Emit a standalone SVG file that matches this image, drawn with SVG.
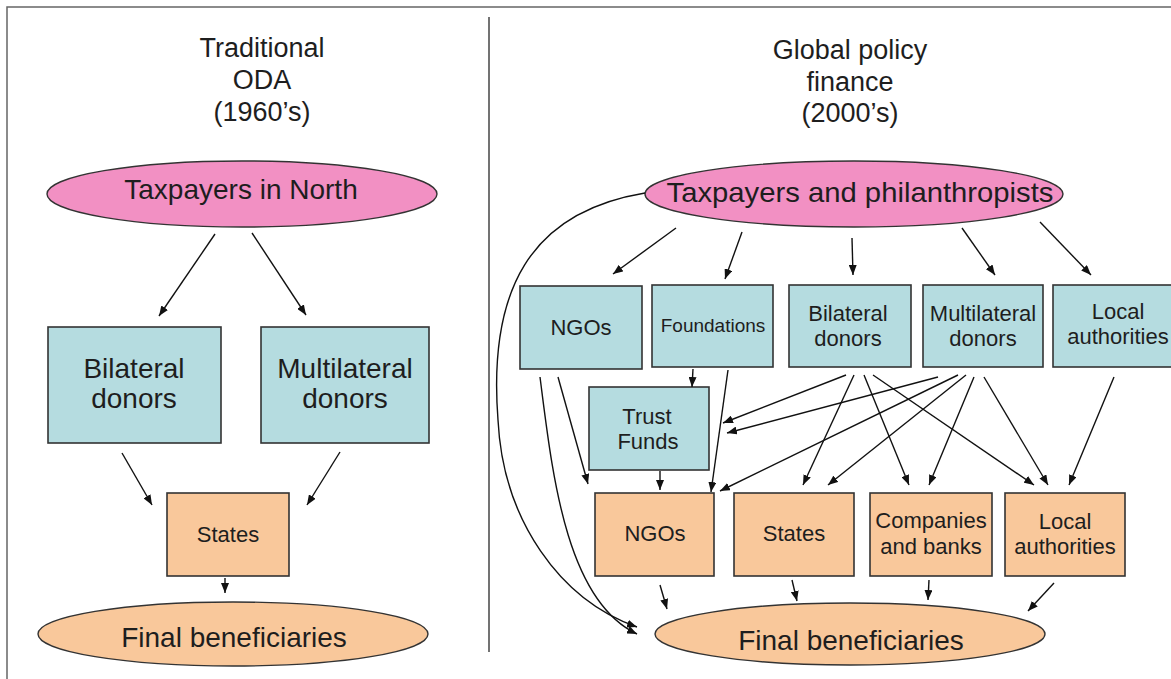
<svg xmlns="http://www.w3.org/2000/svg" width="1171" height="679" viewBox="0 0 1171 679">
<style>
text{font-family:"Liberation Sans",Arial,sans-serif;fill:#1e1e1e;text-anchor:middle}
.t{font-size:27px}
.big{font-size:28px}
.sm{font-size:22px}
.xs{font-size:19px}
.blue{fill:#b5dce0;stroke:#333;stroke-width:1.6}
.or{fill:#f9c89b;stroke:#333;stroke-width:1.6}
.pink{fill:#f290c3;stroke:#333;stroke-width:1.4}
.oe{fill:#f9c89b;stroke:#333;stroke-width:1.4}
.c line,.c path{stroke:#111;stroke-width:1.4;fill:none;marker-end:url(#ah)}
</style>
<defs>
<marker id="ah" viewBox="0 0 10 8" refX="10" refY="4" markerWidth="10" markerHeight="8" markerUnits="userSpaceOnUse" orient="auto">
<path d="M0,0 L10,4 L0,8 z" fill="#111"/>
</marker>
</defs>
<rect width="1171" height="679" fill="#fff"/>
<g id="frame" fill="none" stroke="#666" stroke-width="1.5">
<path d="M7,679 L7,7 L1171,7"/>
<line x1="489" y1="17" x2="489" y2="652" stroke="#444"/>
</g>
<g id="title-left">
<text class="t" x="262" y="57">Traditional</text>
<text class="t" x="262" y="89">ODA</text>
<text class="t" x="262" y="121">(1960’s)</text>
</g>
<g id="title-right">
<text class="t" x="850" y="59">Global policy</text>
<text class="t" x="850" y="91">finance</text>
<text class="t" x="850" y="122">(2000’s)</text>
</g>
<g id="l-taxpayers"><ellipse class="pink" cx="242" cy="194" rx="195" ry="33"/><text class="big" x="241" y="199">Taxpayers in North</text></g>
<g id="l-bilateral"><rect class="blue" x="48" y="327" width="173" height="116"/><text class="big" x="134" y="378">Bilateral</text><text class="big" x="134" y="408">donors</text></g>
<g id="l-multilateral"><rect class="blue" x="261" y="327" width="168" height="116"/><text class="big" x="345" y="378">Multilateral</text><text class="big" x="345" y="408">donors</text></g>
<g id="l-states"><rect class="or" x="167" y="493" width="122" height="83"/><text class="sm" x="228" y="542">States</text></g>
<g id="l-final"><ellipse class="oe" cx="233" cy="634" rx="195" ry="32"/><text class="big" x="234" y="647">Final beneficiaries</text></g>

<g id="r-taxpayers"><ellipse class="pink" cx="854" cy="194" rx="209" ry="33"/><text class="big" x="860" y="202" textLength="387" lengthAdjust="spacingAndGlyphs">Taxpayers and philanthropists</text></g>
<g id="r-ngos"><rect class="blue" x="520" y="286" width="122" height="83"/><text class="sm" x="581" y="335">NGOs</text></g>
<g id="r-foundations"><rect class="blue" x="652" y="285" width="121" height="82"/><text class="xs" x="713" y="332">Foundations</text></g>
<g id="r-bilateral"><rect class="blue" x="789" y="285" width="122" height="82"/><text class="sm" x="848" y="321">Bilateral</text><text class="sm" x="848" y="346">donors</text></g>
<g id="r-multilateral"><rect class="blue" x="923" y="285" width="120" height="82"/><text class="sm" x="983" y="321">Multilateral</text><text class="sm" x="983" y="346">donors</text></g>
<g id="r-local"><rect class="blue" x="1053" y="285" width="130" height="82"/><text class="sm" x="1118" y="319">Local</text><text class="sm" x="1118" y="344">authorities</text></g>
<g id="r-trust"><rect class="blue" x="589" y="387" width="120" height="83"/><text class="sm" x="647" y="424">Trust</text><text class="sm" x="648" y="449">Funds</text></g>
<g id="r-ngos2"><rect class="or" x="595" y="493" width="119" height="83"/><text class="sm" x="655" y="541">NGOs</text></g>
<g id="r-states"><rect class="or" x="734" y="493" width="120" height="83"/><text class="sm" x="794" y="541">States</text></g>
<g id="r-companies"><rect class="or" x="870" y="493" width="122" height="83"/><text class="sm" x="931" y="528">Companies</text><text class="sm" x="931" y="554">and banks</text></g>
<g id="r-local2"><rect class="or" x="1005" y="493" width="120" height="83"/><text class="sm" x="1065" y="529">Local</text><text class="sm" x="1065" y="554">authorities</text></g>
<g id="r-final"><ellipse class="oe" cx="850" cy="634" rx="195" ry="31"/><text class="big" x="851" y="650">Final beneficiaries</text></g>

<g id="connectors" class="c">
<line x1="215" y1="234" x2="159" y2="316"/>
<line x1="252" y1="233" x2="306" y2="315"/>
<line x1="122" y1="453" x2="152" y2="505"/>
<line x1="340" y1="452" x2="307" y2="505"/>
<line x1="225" y1="578" x2="225" y2="593"/>

<line x1="676" y1="228" x2="613" y2="274"/>
<line x1="742" y1="232" x2="725" y2="279"/>
<line x1="852" y1="238" x2="853" y2="275"/>
<line x1="962" y1="228" x2="995" y2="275"/>
<line x1="1040" y1="222" x2="1091" y2="275"/>
<line x1="693" y1="369" x2="692" y2="387"/>
<line x1="558" y1="377" x2="588" y2="484"/>
<path d="M540,377 C552,470 565,600 637,634"/>
<path d="M645,193 C530,212 488,290 498,420 C503,520 560,600 637,627"/>
<line x1="660" y1="471" x2="660" y2="490"/>
<line x1="728" y1="370" x2="711" y2="492"/>
<line x1="846" y1="375" x2="723" y2="423"/>
<line x1="854" y1="375" x2="803" y2="485"/>
<line x1="864" y1="375" x2="909" y2="485"/>
<line x1="873" y1="375" x2="1034" y2="485"/>
<line x1="938" y1="377" x2="727" y2="433"/>
<line x1="958" y1="375" x2="720" y2="491"/>
<line x1="966" y1="375" x2="828" y2="485"/>
<line x1="974" y1="377" x2="929" y2="485"/>
<line x1="984" y1="377" x2="1048" y2="485"/>
<line x1="1114" y1="377" x2="1069" y2="485"/>
<line x1="660" y1="585" x2="667" y2="609"/>
<line x1="792" y1="580" x2="797" y2="601"/>
<line x1="929" y1="580" x2="928" y2="600"/>
<line x1="1054" y1="583" x2="1028" y2="611"/>
</g>
</svg>
